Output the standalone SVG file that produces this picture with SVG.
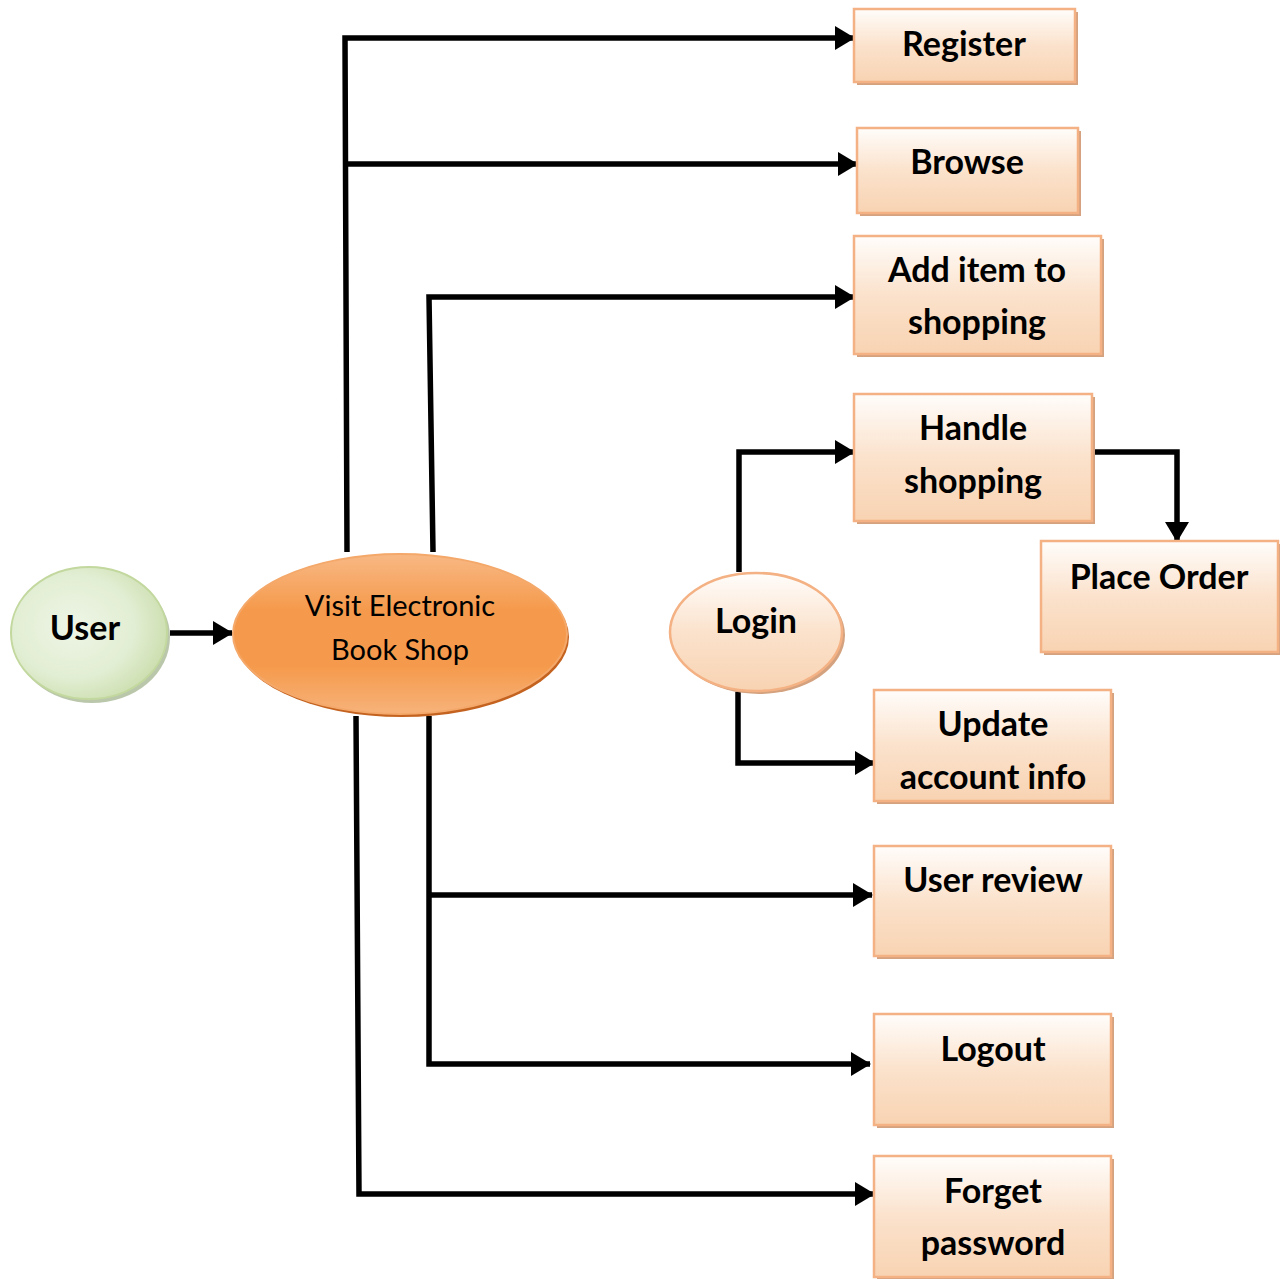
<svg xmlns="http://www.w3.org/2000/svg" width="1280" height="1279" viewBox="0 0 1280 1279">
<style>
.box{fill:url(#peach);stroke:#f4b183;stroke-width:2.5}
.sh{fill:#d4a27f}
.t{font-family:Lato,"Open Sans","Liberation Sans",sans-serif;font-weight:bold;font-size:34px;fill:#000;text-anchor:middle}
.v{font-family:Lato,"Open Sans","Liberation Sans",sans-serif;font-size:29px;fill:#000;text-anchor:middle}
.c{fill:none;stroke:#000;stroke-width:5.5;stroke-linejoin:miter}
</style>
<defs>
<linearGradient id="peach" x1="0" y1="0" x2="0" y2="1"><stop offset="0" stop-color="#fffdfb"/><stop offset="0.5" stop-color="#fbe2cc"/><stop offset="1" stop-color="#f8d3b2"/></linearGradient>
<radialGradient id="green" cx="0.4" cy="0.45" r="0.65"><stop offset="0" stop-color="#eef5e6"/><stop offset="0.6" stop-color="#e2eed3"/><stop offset="1" stop-color="#c9dcaa"/></radialGradient>
<linearGradient id="orange" x1="0" y1="0" x2="0" y2="1"><stop offset="0" stop-color="#f8b884"/><stop offset="0.35" stop-color="#f59a4c"/><stop offset="0.7" stop-color="#f59a4c"/><stop offset="1" stop-color="#f7b27a"/></linearGradient>
<marker id="ah" markerUnits="userSpaceOnUse" markerWidth="20" markerHeight="24" refX="19" refY="12" orient="auto"><path d="M0,0 L20,12 L0,24 Z" fill="#000"/></marker>
</defs>
<g id="connectors">
<path class="c" d="M170,633 H232" marker-end="url(#ah)"/>
<path class="c" d="M347,552 L345,38 H854" marker-end="url(#ah)"/>
<path class="c" d="M346,164 H857" marker-end="url(#ah)"/>
<path class="c" d="M433,552 L429,297 H854" marker-end="url(#ah)"/>
<path class="c" d="M739,572 V452 H854" marker-end="url(#ah)"/>
<path class="c" d="M738,692 V763 H874" marker-end="url(#ah)"/>
<path class="c" d="M1092,452 H1177 V541" marker-end="url(#ah)"/>
<path class="c" d="M429,716 V1064 H870" marker-end="url(#ah)"/>
<path class="c" d="M429,895 H872" marker-end="url(#ah)"/>
<path class="c" d="M356,716 L359,1194 H874" marker-end="url(#ah)"/>
</g>
<g id="user">
<ellipse cx="92" cy="637" rx="78" ry="66" fill="#a9b996" opacity="0.8"/>
<ellipse cx="89" cy="633" rx="78" ry="66" fill="url(#green)" stroke="#c2d89e" stroke-width="2"/>
<text class="t" x="85" y="640">User</text>
</g>
<g id="visit">
<ellipse cx="402" cy="637" rx="167" ry="80" fill="#c4621f"/>
<ellipse cx="400" cy="634" rx="167" ry="80" fill="url(#orange)" stroke="#f4a86a" stroke-width="2"/>
<text class="v" x="400" y="616">Visit Electronic</text>
<text class="v" x="400" y="660">Book Shop</text>
</g>
<g id="login">
<ellipse cx="759" cy="635" rx="86" ry="59" fill="#d4a27f"/>
<ellipse cx="756" cy="632" rx="86" ry="59" fill="url(#peach)" stroke="#f4b183" stroke-width="2.5"/>
<text class="t" x="756" y="633">Login</text>
</g>
<g id="register">
<rect class="sh" x="857" y="12" width="221" height="73"/>
<rect class="box" x="854" y="9" width="221" height="73"/>
<text class="t" x="964" y="56">Register</text>
</g>
<g id="browse">
<rect class="sh" x="860" y="131" width="221" height="85"/>
<rect class="box" x="857" y="128" width="221" height="85"/>
<text class="t" x="967" y="174">Browse</text>
</g>
<g id="additem">
<rect class="sh" x="857" y="239" width="247" height="118"/>
<rect class="box" x="854" y="236" width="247" height="118"/>
<text class="t" x="977" y="282">Add item to</text>
<text class="t" x="977" y="334">shopping</text>
</g>
<g id="handle">
<rect class="sh" x="857" y="397" width="238" height="127"/>
<rect class="box" x="854" y="394" width="238" height="127"/>
<text class="t" x="973" y="440">Handle</text>
<text class="t" x="973" y="493">shopping</text>
</g>
<g id="placeorder">
<rect class="sh" x="1044" y="544" width="236" height="111"/>
<rect class="box" x="1041" y="541" width="237" height="111"/>
<text class="t" x="1159" y="589">Place Order</text>
</g>
<g id="update">
<rect class="sh" x="877" y="693" width="237" height="111"/>
<rect class="box" x="874" y="690" width="237" height="111"/>
<text class="t" x="993" y="736">Update</text>
<text class="t" x="993" y="789">account info</text>
</g>
<g id="review">
<rect class="sh" x="877" y="849" width="237" height="110"/>
<rect class="box" x="874" y="846" width="237" height="110"/>
<text class="t" x="993" y="892">User review</text>
</g>
<g id="logout">
<rect class="sh" x="877" y="1017" width="237" height="111"/>
<rect class="box" x="874" y="1014" width="237" height="111"/>
<text class="t" x="993" y="1061">Logout</text>
</g>
<g id="forget">
<rect class="sh" x="877" y="1159" width="237" height="120"/>
<rect class="box" x="874" y="1156" width="237" height="121"/>
<text class="t" x="993" y="1203">Forget</text>
<text class="t" x="993" y="1255">password</text>
</g>
</svg>
